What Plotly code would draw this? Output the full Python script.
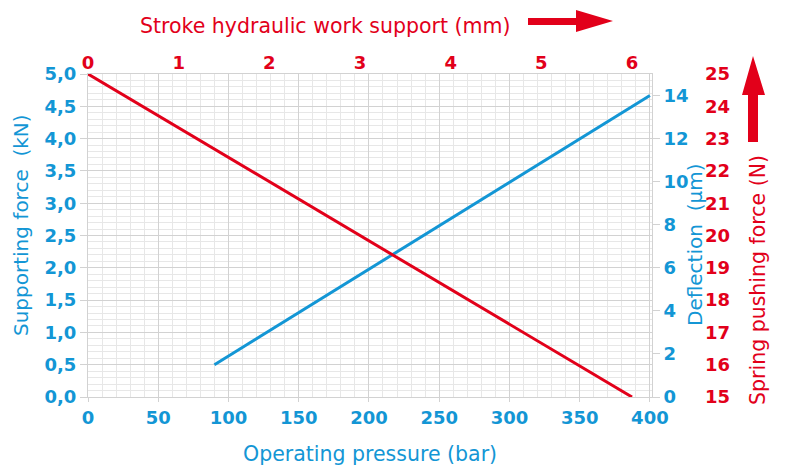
import plotly.graph_objects as go

# ---- data ----
pressure_blue = [90, 400]          # bar
deflection_blue = [1.5, 14]        # µm
stroke_red = [0, 6]                # mm
spring_force_red = [25, 15]        # N

left_ticks = [0, 0.5, 1, 1.5, 2, 2.5, 3, 3.5, 4, 4.5, 5]
left_labels = ["0,0", "0,5", "1,0", "1,5", "2,0", "2,5", "3,0", "3,5", "4,0", "4,5", "5,0"]
deflection_ticks = [0, 2, 4, 6, 8, 10, 12, 14]
spring_ticks = list(range(15, 26))
stroke_ticks = [0, 1, 2, 3, 4, 5, 6]
pressure_ticks = [0, 50, 100, 150, 200, 250, 300, 350, 400]

BLUE = "#1396d5"
RED = "#e2001a"
MAJ = "#d2d2d2"
MIN = "#e7e7e7"
TICKFONT = "DejaVu Sans"
TITLEFONT = "DejaVu Sans"

W, H = 785, 466
L, R, T, B = 88, 20, 74, 69
PW = W - L - R
PH = H - T - B
XD = (652 - L) / PW


def px(x):
    return (x - L) / PW


def py(y):
    return (H - B - y) / PH


def bold(vals):
    return [f"<b>{v}</b>" for v in vals]


fig = go.Figure()
fig.add_trace(go.Scatter(x=pressure_blue, y=deflection_blue, mode="lines",
                         line=dict(color=BLUE, width=3), xaxis="x", yaxis="y2",
                         showlegend=False, hoverinfo="skip"))
fig.add_trace(go.Scatter(x=stroke_red, y=spring_force_red, mode="lines",
                         line=dict(color=RED, width=3), xaxis="x2", yaxis="y3",
                         showlegend=False, hoverinfo="skip"))
# invisible trace to keep left axis active
fig.add_trace(go.Scatter(x=[0], y=[0], mode="markers", marker=dict(opacity=0),
                         xaxis="x", yaxis="y", showlegend=False, hoverinfo="skip"))

tf_blue = dict(family=TICKFONT, size=18, color=BLUE, weight="bold")
tf_red = dict(family=TICKFONT, size=18, color=RED, weight="bold")

fig.update_layout(
    width=W, height=H,
    margin=dict(l=L, r=R, t=T, b=B, pad=0, autoexpand=False),
    paper_bgcolor="white", plot_bgcolor="white",
    separators=",.",
    xaxis=dict(domain=[0, XD], range=[0, 401.5], tickmode="array",
               tickvals=pressure_ticks, ticktext=bold(pressure_ticks),
               automargin=False,
               showgrid=True, gridcolor=MAJ, gridwidth=1,
               minor=dict(dtick=10, showgrid=True, gridcolor=MIN, ticks=""),
               showline=True, linecolor=MAJ, mirror=True,
               ticks="outside", ticklen=4, tickcolor=MAJ,
               tickfont=tf_blue, zeroline=False),
    xaxis2=dict(overlaying="x", side="top", anchor="y", range=[0, 6 * 564 / 544],
                automargin=False, tickmode="array",
                tickvals=stroke_ticks, ticktext=bold(stroke_ticks),
                showgrid=False, ticks="", tickfont=tf_red,
                zeroline=False, showline=False),
    yaxis=dict(range=[0, 5], tickmode="array", tickvals=left_ticks,
               ticktext=bold(left_labels),
               automargin=False,
               showgrid=True, gridcolor=MAJ, gridwidth=1,
               minor=dict(dtick=0.1, showgrid=True, gridcolor=MIN, ticks=""),
               showline=True, linecolor=MAJ, mirror=True,
               ticks="outside", ticklen=7, tickcolor=MAJ,
               tickfont=tf_blue, zeroline=False),
    yaxis2=dict(overlaying="y", side="right", anchor="x", range=[0, 15],
                automargin=False, tickmode="array",
                tickvals=deflection_ticks, ticktext=bold(deflection_ticks),
                showgrid=False,
                ticks="outside", ticklen=7, tickcolor=MAJ,
                tickfont=tf_blue, zeroline=False, showline=False),
    yaxis3=dict(overlaying="y", side="right", anchor="free", position=px(704),
                automargin=False, tickmode="array",
                range=[15, 25], tickvals=spring_ticks, ticktext=bold(spring_ticks),
                showgrid=False,
                ticks="", tickfont=tf_red, zeroline=False, showline=False),
)

ann = [
    dict(text="Stroke hydraulic work support (mm)", x=px(325), y=py(26), color=RED, angle=0, size=20.5),
    dict(text="Operating pressure (bar)", x=px(370), y=py(454), color=BLUE, angle=0, size=20.5),
    dict(text="Supporting force\u00a0 (kN)", x=px(21), y=py(225), color=BLUE, angle=-90, size=20),
    dict(text="Deflection\u00a0 (µm)", x=px(695), y=py(245), color=BLUE, angle=-90, size=20),
    dict(text="Spring pushing force (N)", x=px(758), y=py(280), color=RED, angle=-90, size=20.5),
]
for a in ann:
    fig.add_annotation(text=a["text"], x=a["x"], y=a["y"], xref="paper", yref="paper",
                       showarrow=False, textangle=a["angle"], xanchor="center", yanchor="middle",
                       font=dict(family=TITLEFONT, size=a["size"], color=a["color"]))

# arrows
h_arrow = (f"M {px(528)} {py(18)} L {px(576)} {py(18)} L {px(576)} {py(10)} "
           f"L {px(613)} {py(21)} L {px(576)} {py(32)} L {px(576)} {py(25)} "
           f"L {px(528)} {py(25)} Z")
v_arrow = (f"M {px(748)} {py(142)} L {px(748)} {py(95)} L {px(742)} {py(95)} "
           f"L {px(753)} {py(56)} L {px(765)} {py(95)} L {px(758)} {py(95)} "
           f"L {px(758)} {py(142)} Z")
for p in (h_arrow, v_arrow):
    fig.add_shape(type="path", path=p, xref="paper", yref="paper",
                  fillcolor=RED, line=dict(width=0), layer="above")

fig.write_html("out.html", config={"displayModeBar": False},
               post_script="document.body.style.margin='0';document.body.style.overflow='hidden';")
